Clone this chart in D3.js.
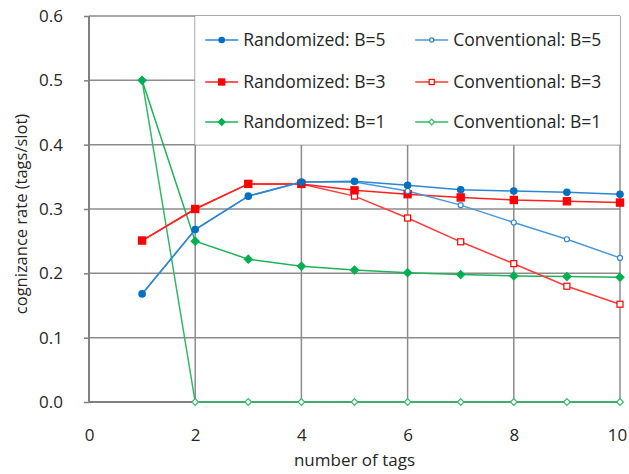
<!DOCTYPE html>
<html>
<head>
<meta charset="utf-8">
<script src="https://cdn.jsdelivr.net/npm/d3@7"></script>
<style>
  body { margin: 0; background: #fff; }
  text { font-family: "Open Sans", "Noto Sans", sans-serif; fill: #262626; }
</style>
</head>
<body>
<div id="chart"></div>
<script>
"use strict"

// data
var tags = [1, 2, 3, 4, 5, 6, 7, 8, 9, 10];
var randB5 = [0.168, 0.268, 0.320, 0.342, 0.343, 0.337, 0.330, 0.328, 0.326, 0.323];
var convB5 = [0.168, 0.268, 0.320, 0.342, 0.342, 0.328, 0.306, 0.279, 0.253, 0.224];
var randB3 = [0.251, 0.300, 0.339, 0.339, 0.329, 0.323, 0.318, 0.314, 0.312, 0.310];
var convB3 = [0.251, 0.300, 0.339, 0.339, 0.320, 0.286, 0.249, 0.215, 0.180, 0.152];
var randB1 = [0.500, 0.250, 0.222, 0.211, 0.205, 0.201, 0.198, 0.196, 0.195, 0.194];
var convB1 = [0.500, 0, 0, 0, 0, 0, 0, 0, 0, 0];
var xTicks = [0, 2, 4, 6, 8, 10];
var yTicks = [0, 0.1, 0.2, 0.3, 0.4, 0.5, 0.6];

var series = [
    {name: "Randomized: B=5", values: randB5, color: "#2e86d0", mark: "#0070c0", shape: "circle", filled: true},
    {name: "Conventional: B=5", values: convB5, color: "#4a98da", mark: "#2e86d0", shape: "circle", filled: false},
    {name: "Randomized: B=3", values: randB3, color: "#ff2020", mark: "#ff0000", shape: "square", filled: true},
    {name: "Conventional: B=3", values: convB3, color: "#ff3a3a", mark: "#ff0000", shape: "square", filled: false},
    {name: "Randomized: B=1", values: randB1, color: "#1fb25a", mark: "#00b050", shape: "diamond", filled: true},
    {name: "Conventional: B=1", values: convB1, color: "#33b868", mark: "#33b868", shape: "diamond", filled: false}
];

var margin = {top: 16, right: 9, bottom: 72, left: 89};
var width = 629 - margin.left - margin.right;
var height = 474 - margin.top - margin.bottom;

var svg = d3.select("#chart")
    .append("svg")
    .attr("width", 629)
    .attr("height", 474);
var g = svg.append("g")
    .attr("transform", "translate(" + margin.left + "," + margin.top + ")");

var x = d3.scaleLinear().domain([0, 10]).range([0, width]);
var y = d3.scaleLinear().domain([0, 0.6]).range([height, 0]);

// grid
g.append("g").selectAll("line")
    .data(yTicks.slice(1))
    .enter().append("line")
    .attr("x1", 0).attr("x2", width)
    .attr("y1", d => y(d)).attr("y2", d => y(d))
    .attr("stroke", "#8c8c8c").attr("stroke-width", 1.5);
g.append("g").selectAll("line")
    .data(xTicks.slice(1))
    .enter().append("line")
    .attr("x1", d => x(d)).attr("x2", d => x(d))
    .attr("y1", 0).attr("y2", height)
    .attr("stroke", "#8c8c8c").attr("stroke-width", 1.5);

// axes
var yAxis = g.append("g")
    .call(d3.axisLeft(y).tickValues(yTicks).tickFormat(d3.format(".1f")).tickSize(5).tickPadding(21));
var xAxis = g.append("g")
    .attr("transform", "translate(0," + height + ")")
    .call(d3.axisBottom(x).tickValues(xTicks).tickSize(0).tickPadding(27));
[yAxis, xAxis].forEach(function(a) {
    a.select(".domain").attr("stroke", "#808080").attr("stroke-width", 2);
    a.selectAll(".tick line").attr("stroke", "#808080").attr("stroke-width", 1.5);
    a.selectAll("text").style("font-size", "17px").attr("fill", "#262626");
});
xAxis.select(".domain").attr("d", "M0,0H" + width);
yAxis.select(".domain").attr("d", "M0," + height + "V0");
// keep the last x label inside the picture
xAxis.selectAll(".tick text").filter(d => d === 10).attr("dx", "-3");

// legend box (white, sits over the grid)
var legend = g.append("g").attr("transform", "translate(" + x(2) + ",0)");
legend.append("rect")
    .attr("x", 0).attr("y", 0)
    .attr("width", width - x(2)).attr("height", y(0.4))
    .attr("fill", "#fff");

// lines
var line = d3.line()
    .x((d, i) => x(tags[i]))
    .y(d => y(d));

var plot = g.append("g");
series.slice().reverse().forEach(function(s) {
    plot.append("path")
        .attr("d", line(s.values))
        .attr("fill", "none")
        .attr("stroke", s.color)
        .attr("stroke-width", 1.5);
});

function drawMark(sel, s, cx, cy, k) {
    var fill = s.filled ? s.mark : "#fff";
    var sw = 1.2;
    if (s.shape === "circle") {
        sel.append("circle").attr("cx", cx).attr("cy", cy)
            .attr("r", (s.filled ? 3.2 : 2.5) * k)
            .attr("fill", fill).attr("stroke", s.mark).attr("stroke-width", sw);
    } else if (s.shape === "square") {
        var h = (s.filled ? 3.6 : 3) * k;
        sel.append("rect").attr("x", cx - h).attr("y", cy - h)
            .attr("width", 2 * h).attr("height", 2 * h)
            .attr("fill", fill).attr("stroke", s.mark).attr("stroke-width", sw);
    } else {
        var d = (s.filled ? 4 : 3.3) * k;
        sel.append("path")
            .attr("d", "M" + cx + "," + (cy - d) + "L" + (cx + d) + "," + cy + "L" + cx + "," + (cy + d) + "L" + (cx - d) + "," + cy + "Z")
            .attr("fill", fill).attr("stroke", s.mark).attr("stroke-width", sw);
    }
}

series.slice().reverse().forEach(function(s) {
    s.values.forEach(function(v, i) {
        drawMark(plot, s, x(tags[i]), y(v), 1);
    });
});

// legend entries
var rowY = [24, 66, 106];
series.forEach(function(s, i) {
    var col = i % 2, row = Math.floor(i / 2);
    var lx = col === 0 ? 10 : 220;
    var ly = rowY[row];
    legend.append("line")
        .attr("x1", lx).attr("x2", lx + 33)
        .attr("y1", ly).attr("y2", ly)
        .attr("stroke", s.color).attr("stroke-width", 1.5);
    drawMark(legend, s, lx + 16.5, ly, 0.85);
    legend.append("text")
        .attr("x", lx + 38).attr("y", ly)
        .attr("dy", "0.35em")
        .style("font-size", "17.5px")
        .text(s.name);
});

// axis titles
svg.append("text")
    .attr("x", margin.left + width / 2).attr("y", 466)
    .attr("text-anchor", "middle")
    .style("font-size", "17px")
    .text("number of tags");
svg.append("text")
    .attr("transform", "translate(27," + (margin.top + height / 2 + 5) + ") rotate(-90)")
    .attr("text-anchor", "middle")
    .style("font-size", "16.5px")
    .text("cognizance rate (tags/slot)");
</script>
</body>
</html>
